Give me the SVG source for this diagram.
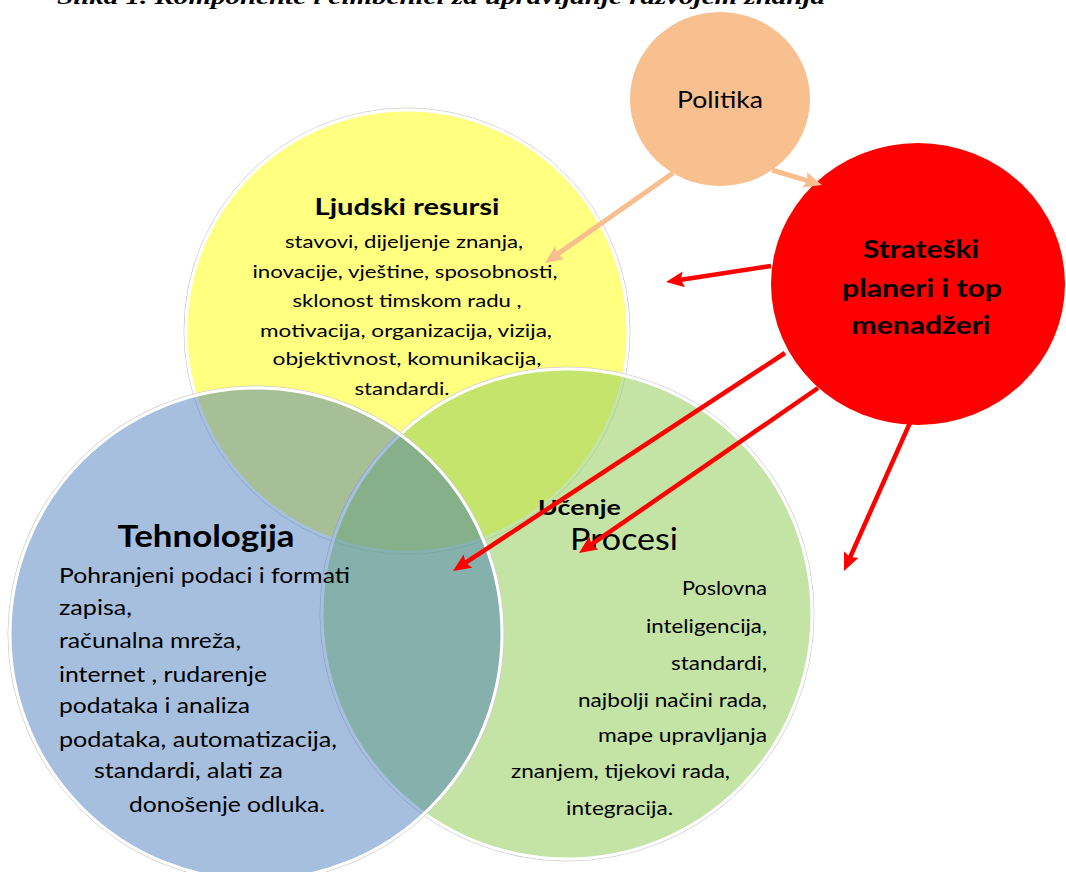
<svg xmlns="http://www.w3.org/2000/svg" width="1066" height="872" viewBox="0 0 1066 872">
<style>
.t{font-family:Lato,"Open Sans","Liberation Sans",sans-serif;fill:#000}
.b{font-weight:bold}
.ring{fill:none;stroke:#cfcfcf;stroke-width:1}
.edge{stroke:#fff;stroke-width:3}
.red{stroke:#ff0000;stroke-width:4.5;fill:none}
.peach{stroke:#f8be8e;stroke-width:5;fill:none}
</style>
<defs>
<marker id="hr" markerUnits="userSpaceOnUse" markerWidth="20" markerHeight="18" refX="6" refY="8" orient="auto">
<path d="M0,0 L18,8 L0,16 L3,8 Z" fill="#ff0000"/>
</marker>
<marker id="hp" markerUnits="userSpaceOnUse" markerWidth="20" markerHeight="18" refX="6" refY="8" orient="auto">
<path d="M0,0 L18,8 L0,16 L3,8 Z" fill="#f8be8e"/>
</marker>
</defs>
<rect width="1066" height="872" fill="#fff"/>
<g id="title">
<text x="57" y="3.5" textLength="768" lengthAdjust="spacingAndGlyphs" style="font-family:'Liberation Serif',serif;font-weight:bold;font-style:italic;font-size:21px">Slika 1. Komponente i čimbenici za upravljanje razvojem znanja</text>
</g>
<g id="node-ljudski-resursi">
<circle class="ring" cx="407" cy="331" r="223"/>
<circle class="edge" cx="407" cy="331" r="221" fill="#ffff80"/>
</g>
<g id="node-procesi">
<circle class="ring" cx="567" cy="614" r="247"/>
<circle cx="567" cy="614" r="245" fill="#92cd59" fill-opacity="0.54" stroke="#fff" stroke-width="3"/>
</g>
<g id="node-tehnologija">
<circle class="ring" cx="256" cy="634" r="248"/>
<circle cx="256" cy="634" r="246" fill="#326ab2" fill-opacity="0.43" stroke="#fff" stroke-width="3"/>
</g>
<g id="labels-ljudski">
<text class="t b" x="407" y="215" text-anchor="middle" font-size="23" textLength="185" lengthAdjust="spacingAndGlyphs">Ljudski resursi</text>
<g font-size="18" text-anchor="middle">
<text class="t" x="404" y="248" textLength="238" lengthAdjust="spacingAndGlyphs">stavovi, dijeljenje znanja,</text>
<text class="t" x="405" y="278" textLength="305" lengthAdjust="spacingAndGlyphs">inovacije, vještine, sposobnosti,</text>
<text class="t" x="407" y="307" textLength="229" lengthAdjust="spacingAndGlyphs">sklonost timskom radu ,</text>
<text class="t" x="406" y="337" textLength="292" lengthAdjust="spacingAndGlyphs">motivacija, organizacija, vizija,</text>
<text class="t" x="407" y="365" textLength="269" lengthAdjust="spacingAndGlyphs">objektivnost, komunikacija,</text>
<text class="t" x="402" y="395" textLength="95" lengthAdjust="spacingAndGlyphs">standardi.</text>
</g>
</g>
<g id="labels-tehnologija">
<text class="t b" x="206" y="547" text-anchor="middle" font-size="30" textLength="177" lengthAdjust="spacingAndGlyphs">Tehnologija</text>
<g font-size="20.5">
<text class="t" x="59" y="583" textLength="291" lengthAdjust="spacingAndGlyphs">Pohranjeni podaci i formati</text>
<text class="t" x="59" y="615" textLength="73" lengthAdjust="spacingAndGlyphs">zapisa,</text>
<text class="t" x="59" y="648" textLength="182" lengthAdjust="spacingAndGlyphs">računalna mreža,</text>
<text class="t" x="59" y="682" textLength="208" lengthAdjust="spacingAndGlyphs">internet , rudarenje</text>
<text class="t" x="59" y="713" textLength="191" lengthAdjust="spacingAndGlyphs">podataka i analiza</text>
<text class="t" x="59" y="747" textLength="278" lengthAdjust="spacingAndGlyphs">podataka, automatizacija,</text>
<text class="t" x="94" y="778" textLength="189" lengthAdjust="spacingAndGlyphs">standardi, alati za</text>
<text class="t" x="129" y="812" textLength="196" lengthAdjust="spacingAndGlyphs">donošenje odluka.</text>
</g>
</g>
<g id="labels-procesi">
<text class="t b" x="538" y="515" font-size="20" textLength="83" lengthAdjust="spacingAndGlyphs">Učenje</text>
<text class="t" x="570" y="550" font-size="31" textLength="108" lengthAdjust="spacingAndGlyphs">Procesi</text>
<g font-size="18.5">
<text class="t" x="767" y="595" text-anchor="end" textLength="85" lengthAdjust="spacingAndGlyphs">Poslovna</text>
<text class="t" x="767" y="633" text-anchor="end" textLength="121" lengthAdjust="spacingAndGlyphs">inteligencija,</text>
<text class="t" x="767" y="670" text-anchor="end" textLength="96" lengthAdjust="spacingAndGlyphs">standardi,</text>
<text class="t" x="767" y="707" text-anchor="end" textLength="189" lengthAdjust="spacingAndGlyphs">najbolji načini rada,</text>
<text class="t" x="767" y="742" text-anchor="end" textLength="169" lengthAdjust="spacingAndGlyphs">mape upravljanja</text>
<text class="t" x="511" y="778" textLength="219" lengthAdjust="spacingAndGlyphs">znanjem, tijekovi rada,</text>
<text class="t" x="566" y="815" textLength="107" lengthAdjust="spacingAndGlyphs">integracija.</text>
</g>
</g>
<g id="node-politika">
<ellipse cx="720" cy="99" rx="90" ry="87" fill="#f8bf8f"/>
<text class="t" x="720" y="108" text-anchor="middle" font-size="23" textLength="86" lengthAdjust="spacingAndGlyphs">Politika</text>
</g>
<g id="node-strateski">
<ellipse cx="918" cy="284" rx="147" ry="141" fill="#ff0000"/>
<g font-size="25" text-anchor="middle">
<text class="t b" x="921" y="258" textLength="116" lengthAdjust="spacingAndGlyphs">Strateški</text>
<text class="t b" x="922" y="297" textLength="160" lengthAdjust="spacingAndGlyphs">planeri i top</text>
<text class="t b" x="921" y="334" textLength="139" lengthAdjust="spacingAndGlyphs">menadžeri</text>
</g>
</g>
<g id="connectors">
<line class="peach" x1="673" y1="173" x2="554.8" y2="256.1" marker-end="url(#hp)"/>
<line class="peach" x1="772" y1="170" x2="810.5" y2="181.6" marker-end="url(#hp)"/>
<line class="red" x1="771" y1="266" x2="677.9" y2="280.2" marker-end="url(#hr)"/>
<line class="red" x1="785" y1="353" x2="463" y2="564.4" marker-end="url(#hr)"/>
<line class="red" x1="818" y1="388" x2="588.9" y2="546.2" marker-end="url(#hr)"/>
<line class="red" x1="921" y1="398" x2="848.9" y2="560" marker-end="url(#hr)"/>
</g>
</svg>
